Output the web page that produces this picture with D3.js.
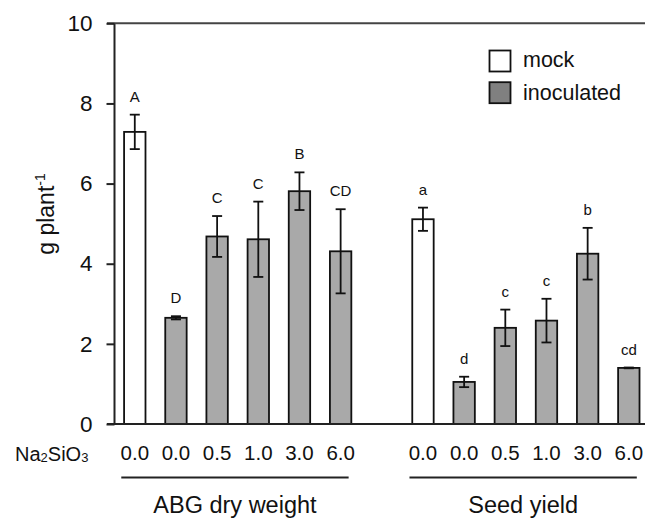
<!DOCTYPE html>
<html>
<head>
<meta charset="utf-8">
<script src="https://cdn.jsdelivr.net/npm/d3@7"></script>
<style>
  html, body { margin: 0; padding: 0; background: #fff; }
  svg { display: block; font-family: "Liberation Sans", Arial, Helvetica, sans-serif; }
</style>
</head>
<body>
<svg id="chart" width="645" height="521"></svg>
<script>
// ---- data ----
const groups = ["ABG dry weight", "Seed yield"];
const doseLabels = ["0.0", "0.0", "0.5", "1.0", "3.0", "6.0"];
const treatments = ["mock", "inoculated", "inoculated", "inoculated", "inoculated", "inoculated"];
const abgMeans = [7.29, 2.65, 4.68, 4.61, 5.81, 4.31];
const abgErrors = [0.43, 0.04, 0.51, 0.94, 0.47, 1.05];
const abgLetters = ["A", "D", "C", "C", "B", "CD"];
const seedMeans = [5.11, 1.05, 2.40, 2.58, 4.25, 1.40];
const seedErrors = [0.29, 0.13, 0.455, 0.545, 0.645, 0.01];
const seedLetters = ["a", "d", "c", "c", "b", "cd"];
const yTicks = [0, 2, 4, 6, 8, 10];
const legendItems = ["mock", "inoculated"];

// ---- build records ----
const records = [];
[[abgMeans, abgErrors, abgLetters], [seedMeans, seedErrors, seedLetters]].forEach((g, gi) => {
  g[0].forEach((v, i) => {
    records.push({ group: gi, slot: gi * 7 + i, dose: doseLabels[i], treat: treatments[i], value: v, err: g[1][i], letter: g[2][i] });
  });
});

const svg = d3.select("#chart");
const fillColor = { mock: "#ffffff", inoculated: "#a9a9a9" };
const legendFill = { mock: "#ffffff", inoculated: "#808080" };

const axisX = 114.5, yTop = 23.3, yBottom = 424, rightEdge = 645;

const y = d3.scaleLinear().domain([0, 10]).range([yBottom, yTop]);
const x = d3.scaleBand().domain(d3.range(13)).range([114.2, 649.4]).paddingInner(0.48).paddingOuter(0.24);
const cx = s => x(s) + x.bandwidth() / 2;

// ---- bars ----
svg.append("g").selectAll("rect").data(records).join("rect")
  .attr("x", d => x(d.slot))
  .attr("y", d => y(d.value))
  .attr("width", x.bandwidth())
  .attr("height", d => y(0) - y(d.value))
  .attr("fill", d => fillColor[d.treat])
  .attr("stroke", "#111")
  .attr("stroke-width", 1.8);

// ---- error bars ----
const eb = svg.append("g").attr("stroke", "#111").attr("stroke-width", 1.8);
records.forEach(d => {
  const c = cx(d.slot), t = y(d.value + d.err), b = y(d.value - d.err);
  eb.append("line").attr("x1", c).attr("x2", c).attr("y1", t).attr("y2", b);
  eb.append("line").attr("x1", c - 5).attr("x2", c + 5).attr("y1", t).attr("y2", t);
  eb.append("line").attr("x1", c - 5).attr("x2", c + 5).attr("y1", b).attr("y2", b);
});

// ---- letters ----
svg.append("g").selectAll("text").data(records).join("text")
  .attr("x", d => cx(d.slot))
  .attr("y", d => y(d.value + d.err) - 13)
  .attr("text-anchor", "middle")
  .attr("font-size", 15)
  .attr("fill", "#111")
  .text(d => d.letter);

// ---- axes frame ----
const frame = svg.append("g").attr("stroke", "#222").attr("stroke-width", 2);
frame.append("line").attr("x1", axisX).attr("x2", axisX).attr("y1", yTop).attr("y2", yBottom + 1);
frame.append("line").attr("x1", 107).attr("x2", rightEdge).attr("y1", yBottom).attr("y2", yBottom);
frame.append("line").attr("x1", 107).attr("x2", rightEdge).attr("y1", y(10)).attr("y2", y(10)).attr("stroke", "#444");

// y axis via d3
const yAxis = d3.axisLeft(y).tickValues(yTicks).tickSize(8).tickPadding(14).tickFormat(d3.format("d"));
const ya = svg.append("g").attr("transform", `translate(${axisX},0)`).call(yAxis);
ya.select(".domain").remove();
ya.selectAll(".tick line").attr("stroke", "#222").attr("stroke-width", 2);
ya.selectAll(".tick text").attr("font-size", 22.5).attr("fill", "#111")
  .attr("font-family", "\"Liberation Sans\", Arial, sans-serif");

// y label
const yl = svg.append("text")
  .attr("transform", "translate(53.5,214) rotate(-90)")
  .attr("text-anchor", "middle")
  .attr("font-size", 23)
  .attr("fill", "#111");
yl.append("tspan").text("g plant");
yl.append("tspan").attr("font-size", 14).attr("dy", -9).text("-1");

// x tick labels
svg.append("g").selectAll("text").data(records).join("text")
  .attr("x", d => cx(d.slot))
  .attr("y", 460)
  .attr("text-anchor", "middle")
  .attr("font-size", 20.5)
  .attr("fill", "#111")
  .text(d => d.dose);

// Na2SiO3
const na = svg.append("text").attr("x", 15).attr("y", 460.5).attr("font-size", 20).attr("fill", "#111");
na.append("tspan").text("Na");
na.append("tspan").attr("font-size", 13).attr("dy", 1.5).text("2");
na.append("tspan").attr("dy", -1.5).text("SiO");
na.append("tspan").attr("font-size", 13).attr("dy", 1.5).text("3");

// group underlines and titles
groups.forEach((g, gi) => {
  const x1 = cx(gi * 7) - 13.5, x2 = cx(gi * 7 + 5) + 8;
  svg.append("line").attr("x1", x1).attr("x2", x2).attr("y1", 477.5).attr("y2", 477.5)
    .attr("stroke", "#222").attr("stroke-width", 2);
  svg.append("text").attr("x", (x1 + x2) / 2).attr("y", 513)
    .attr("text-anchor", "middle").attr("font-size", 23.5).attr("fill", "#111").text(g);
});

// legend
const lg = svg.append("g");
legendItems.forEach((k, i) => {
  lg.append("rect").attr("x", 489.5).attr("y", 50.5 + i * 31.7).attr("width", 21).attr("height", 21)
    .attr("fill", legendFill[k]).attr("stroke", "#111").attr("stroke-width", 1.8);
  lg.append("text").attr("x", 523).attr("y", 67 + i * 33).attr("font-size", 21.5).attr("fill", "#111").text(k);
});
</script>
</body>
</html>
